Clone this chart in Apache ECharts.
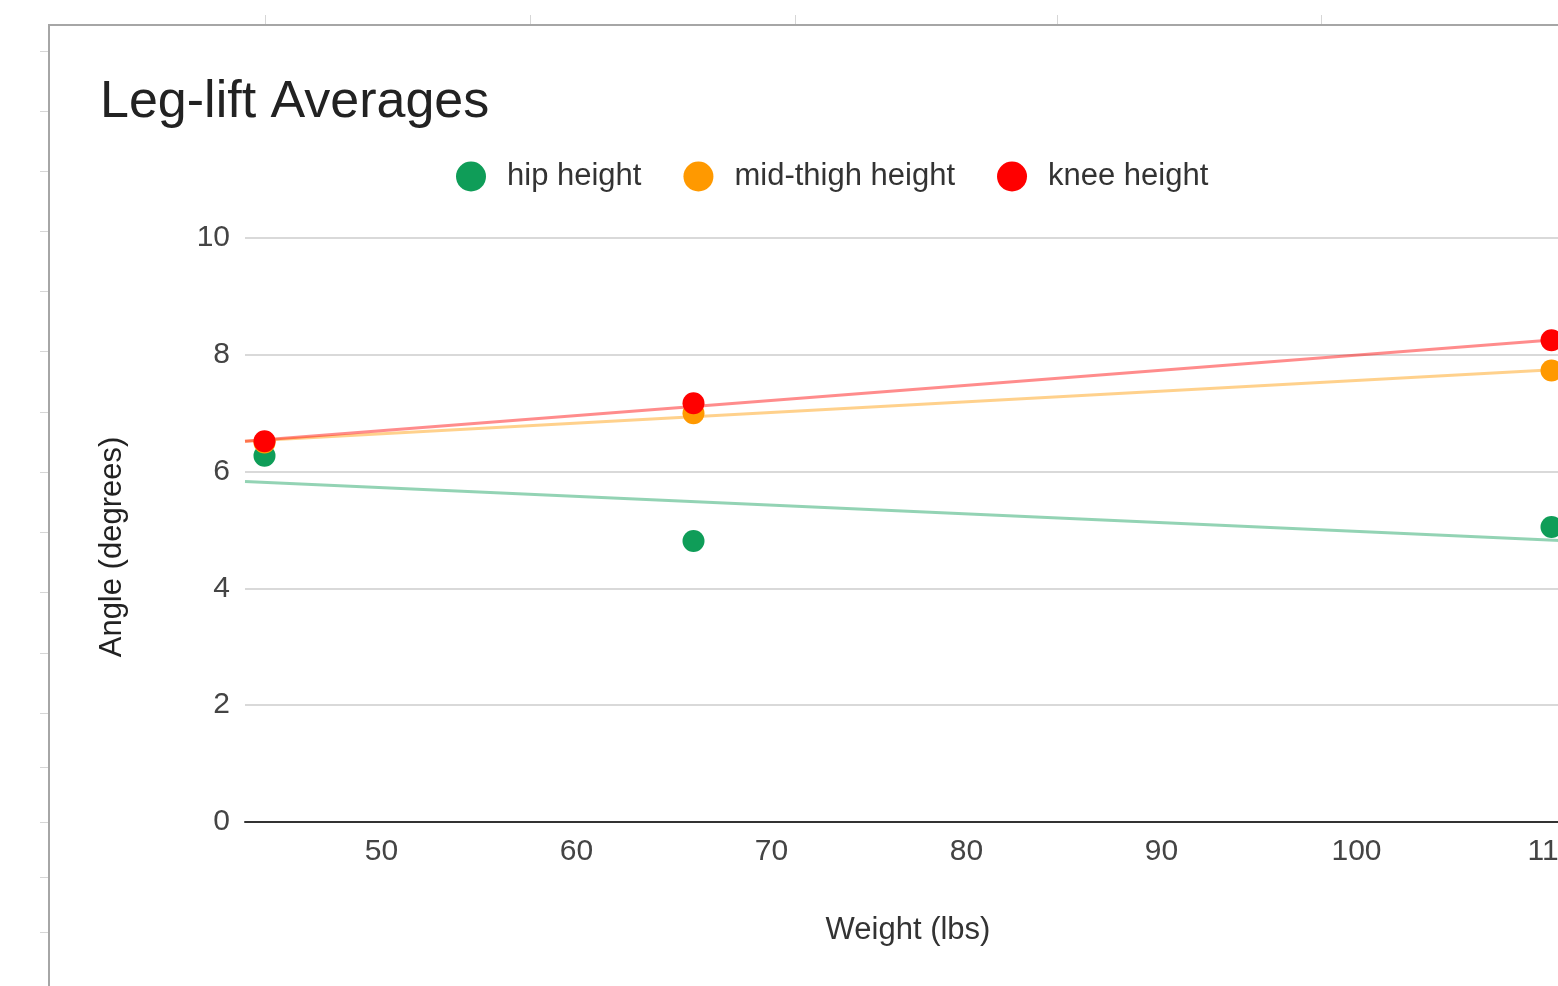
<!DOCTYPE html>
<html>
<head>
<meta charset="utf-8">
<script src="https://cdn.jsdelivr.net/npm/echarts@6/dist/echarts.min.js"></script>
<style>
  html, body { margin: 0; padding: 0; background: #fff; overflow: hidden; width: 1558px; height: 986px; }
  #frame { position: absolute; left: 48px; top: 24px; width: 2000px; height: 1200px;
           border-left: 2px solid #a6a6a6; border-top: 2px solid #a6a6a6; }
  .tl { position: absolute; left: 40px; width: 8px; height: 1px; background: #d6d6d6; }
  .tt { position: absolute; top: 15px; width: 1px; height: 9px; background: #d6d6d6; }
  #chart { position: absolute; left: 0; top: 0; width: 1800px; height: 986px; }
</style>
</head>
<body>
<div id="frame"></div>
<div id="ticks"></div>
<div id="chart"></div>
<script>
// ---- data ----
const seriesNames = ['hip height', 'mid-thigh height', 'knee height'];
const weights = [44, 66, 110];
const hipHeight = [6.27, 4.81, 5.05];
const midThighHeight = [6.5, 7.0, 7.73];
const kneeHeight = [6.52, 7.17, 8.25];
// trendline endpoints
const trendX = [43, 111];
const hipTrend = [5.83, 4.81];
const midThighTrend = [6.52, 7.76];
const kneeTrend = [6.52, 8.28];
const xTicks = [50, 60, 70, 80, 90, 100, 110];

// decorative spreadsheet gridline stubs outside the chart frame
const rowStubs = [51, 111, 171, 231, 291, 351, 412, 472, 532, 592, 653, 713, 767, 822, 877, 932];
const colStubs = [265, 530, 795, 1057, 1321];
const tk = document.getElementById('ticks');
rowStubs.forEach(y => { const d = document.createElement('div'); d.className = 'tl'; d.style.top = y + 'px'; tk.appendChild(d); });
colStubs.forEach(x => { const d = document.createElement('div'); d.className = 'tt'; d.style.left = x + 'px'; tk.appendChild(d); });

const colors = ['#0f9d58', '#ff9900', '#ff0000'];
const values = [hipHeight, midThighHeight, kneeHeight];
const trends = [hipTrend, midThighTrend, kneeTrend];
const font = '"Liberation Sans", Arial, sans-serif';

const series = [];
for (let i = 0; i < 3; i++) {
  series.push({
    name: seriesNames[i] + ' trend',
    type: 'line',
    data: trendX.map((x, j) => [x, trends[i][j]]),
    showSymbol: false,
    silent: true,
    lineStyle: { color: colors[i], width: 3, opacity: 0.45 },
    z: 2
  });
}
for (let i = 0; i < 3; i++) {
  series.push({
    name: seriesNames[i],
    type: 'scatter',
    data: weights.map((x, j) => [x, values[i][j]]),
    symbolSize: 22,
    itemStyle: { color: colors[i], opacity: 1 },
    z: 5 + i
  });
}

const chart = echarts.init(document.getElementById('chart'), null, { renderer: 'canvas' });
chart.setOption({
  animation: false,
  textStyle: { fontFamily: font },
  title: {
    text: 'Leg-lift Averages',
    left: 95, top: 72,
    textStyle: { fontFamily: font, fontSize: 52, fontWeight: 'normal', color: '#222' }
  },
  legend: {
    data: seriesNames.map((n, i) => ({ name: n, itemStyle: { color: colors[i] } })),
    icon: 'circle',
    itemWidth: 30, itemHeight: 30, itemGap: 42,
    left: 451, top: 156,
    textStyle: { fontFamily: font, fontSize: 31, color: '#333', padding: [0, 0, 0, 16] }
  },
  grid: { left: 245, right: 229, top: 238, bottom: 164, containLabel: false },
  xAxis: {
    type: 'value', min: 43, max: 111,
    name: 'Weight (lbs)', nameLocation: 'middle', nameGap: 93,
    nameTextStyle: { fontFamily: font, fontSize: 31, color: '#333' },
    axisLine: { show: true, onZero: false, lineStyle: { color: '#333', width: 2 } },
    axisTick: { show: false },
    splitLine: { show: false },
    axisLabel: { customValues: xTicks, margin: 15, fontFamily: font, fontSize: 30, color: '#444' }
  },
  yAxis: {
    type: 'value', min: 0, max: 10, interval: 2,
    name: 'Angle (degrees)', nameLocation: 'middle', nameGap: 117, nameRotate: 90,
    nameTextStyle: { fontFamily: font, fontSize: 31, color: '#222', padding: [0, 34, 0, 0] },
    axisLine: { show: false },
    axisTick: { show: false },
    splitLine: { show: true, lineStyle: { color: '#cccccc', width: 1.5 } },
    axisLabel: { margin: 15, fontFamily: font, fontSize: 30, color: '#444' }
  },
  series: series
});
</script>
</body>
</html>
